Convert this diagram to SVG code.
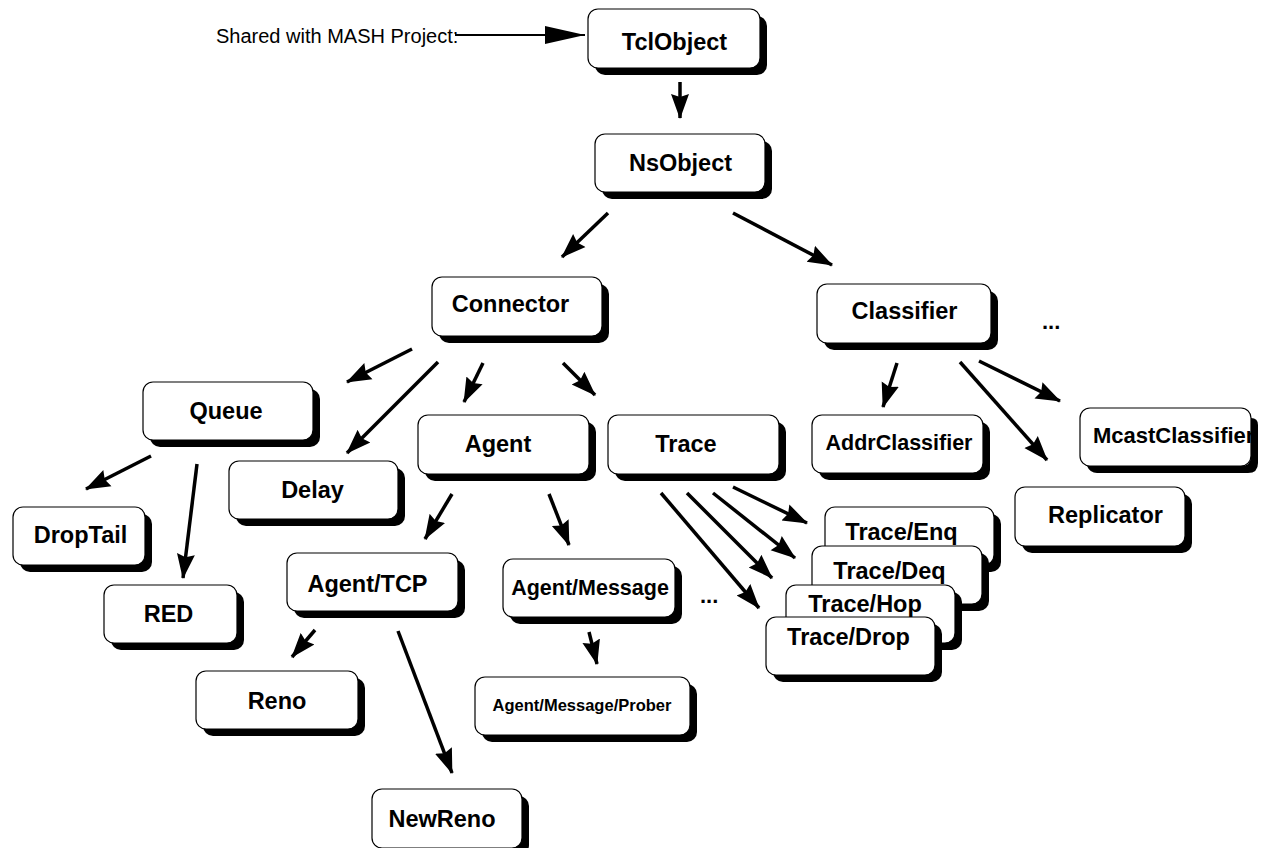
<svg xmlns="http://www.w3.org/2000/svg" width="1270" height="848" viewBox="0 0 1270 848">
<style>
.sh{fill:#000}
.bx{fill:#fff;stroke:#000;stroke-width:1.2}
.t{font-family:"Liberation Sans",Arial,sans-serif;font-weight:bold;font-size:23.5px;fill:#000;text-anchor:middle}
.c line{stroke:#000;stroke-width:3.5;marker-end:url(#ah)}
.lbl{font-family:"Liberation Sans",Arial,sans-serif;font-size:20px;fill:#000}
.dots{font-family:"Liberation Sans",Arial,sans-serif;font-weight:bold;font-size:22px;fill:#000}
</style>
<defs>
<marker id="ah" markerWidth="26" markerHeight="20" refX="24" refY="10" orient="auto" markerUnits="userSpaceOnUse" viewBox="0 0 26 20"><path d="M0,1 L25,10 L0,19 L3,10 Z" fill="#000"/></marker>
<marker id="ahb" markerWidth="42" markerHeight="20" refX="40" refY="10" orient="auto" markerUnits="userSpaceOnUse" viewBox="0 0 42 20"><path d="M0,1 L40,10 L0,19 Z" fill="#000"/></marker>
</defs>
<rect width="1270" height="848" fill="#fff"/>

<text class="lbl" x="216" y="43">Shared with MASH Project:</text>

<g id="TclObject"><rect class="sh" x="595" y="16" width="172" height="59" rx="10"/><rect class="bx" x="588" y="9" width="172" height="59" rx="10"/><text class="t" x="674.5" y="50">TclObject</text></g>
<g id="NsObject"><rect class="sh" x="602" y="141" width="170" height="58" rx="10"/><rect class="bx" x="595" y="134" width="170" height="58" rx="10"/><text class="t" x="680.5" y="171">NsObject</text></g>
<g id="Connector"><rect class="sh" x="439" y="284" width="170" height="59" rx="10"/><rect class="bx" x="432" y="277" width="170" height="59" rx="10"/><text class="t" x="510.5" y="312">Connector</text></g>
<g id="Classifier"><rect class="sh" x="824" y="291" width="174" height="59" rx="10"/><rect class="bx" x="817" y="284" width="174" height="59" rx="10"/><text class="t" x="904.5" y="319">Classifier</text></g>
<g id="Queue"><rect class="sh" x="150" y="389" width="170" height="58" rx="10"/><rect class="bx" x="143" y="382" width="170" height="58" rx="10"/><text class="t" x="226" y="419">Queue</text></g>
<g id="Delay"><rect class="sh" x="236" y="468" width="169" height="58" rx="10"/><rect class="bx" x="229" y="461" width="169" height="58" rx="10"/><text class="t" x="312.5" y="498">Delay</text></g>
<g id="Agent"><rect class="sh" x="425" y="422" width="171" height="59" rx="10"/><rect class="bx" x="418" y="415" width="171" height="59" rx="10"/><text class="t" x="498" y="452">Agent</text></g>
<g id="Trace"><rect class="sh" x="615" y="422" width="171" height="59" rx="10"/><rect class="bx" x="608" y="415" width="171" height="59" rx="10"/><text class="t" x="686" y="452">Trace</text></g>
<g id="AddrClassifier"><rect class="sh" x="819" y="422" width="171" height="58" rx="10"/><rect class="bx" x="812" y="415" width="171" height="58" rx="10"/><text class="t" x="899" y="450" style="font-size:21.5px">AddrClassifier</text></g>
<g id="McastClassifier"><rect class="bx" x="1080" y="408" width="171" height="58" rx="10"/><text class="t" x="1093" y="443" style="font-size:22px;text-anchor:start">McastClassifier</text><path class="sh" d="M1251,418 Q1258,418 1258,425 L1258,463 Q1258,473 1248,473 L1097,473 Q1090,473 1087,466 L1241,466 Q1251,466 1251,456 Z"/></g>
<g id="Replicator"><rect class="sh" x="1022" y="494" width="170" height="59" rx="10"/><rect class="bx" x="1015" y="487" width="170" height="59" rx="10"/><text class="t" x="1105.5" y="523">Replicator</text></g>
<g id="DropTail"><rect class="sh" x="20" y="514" width="132" height="58" rx="10"/><rect class="bx" x="13" y="507" width="132" height="58" rx="10"/><text class="t" x="80.5" y="543">DropTail</text></g>
<g id="RED"><rect class="sh" x="111" y="592" width="133" height="58" rx="10"/><rect class="bx" x="104" y="585" width="133" height="58" rx="10"/><text class="t" x="168.5" y="622">RED</text></g>
<g id="AgentTCP"><rect class="sh" x="294" y="560" width="171" height="58" rx="10"/><rect class="bx" x="287" y="553" width="171" height="58" rx="10"/><text class="t" x="367.5" y="592">Agent/TCP</text></g>
<g id="AgentMessage"><rect class="sh" x="510" y="566" width="172" height="58" rx="10"/><rect class="bx" x="503" y="559" width="172" height="58" rx="10"/><text class="t" x="590" y="595" style="font-size:21.5px">Agent/Message</text></g>
<g id="TraceEnq"><rect class="sh" x="832" y="514" width="169" height="58" rx="10"/><rect class="bx" x="825" y="507" width="169" height="58" rx="10"/><text class="t" x="901.5" y="540">Trace/Enq</text></g>
<g id="TraceDeq"><rect class="sh" x="819" y="553" width="170" height="58" rx="10"/><rect class="bx" x="812" y="546" width="170" height="58" rx="10"/><text class="t" x="889.5" y="579">Trace/Deq</text></g>
<g id="TraceHop"><rect class="sh" x="793" y="592" width="169" height="58" rx="10"/><rect class="bx" x="786" y="585" width="169" height="58" rx="10"/><text class="t" x="865" y="612">Trace/Hop</text></g>
<g id="TraceDrop"><rect class="sh" x="773" y="624" width="169" height="58" rx="10"/><rect class="bx" x="766" y="617" width="169" height="58" rx="10"/><text class="t" x="848.5" y="645">Trace/Drop</text></g>
<g id="Reno"><rect class="sh" x="203" y="678" width="162" height="58" rx="10"/><rect class="bx" x="196" y="671" width="162" height="58" rx="10"/><text class="t" x="277" y="709">Reno</text></g>
<g id="NewReno"><rect class="sh" x="379" y="796" width="150" height="59" rx="10"/><rect class="bx" x="372" y="789" width="150" height="59" rx="10"/><text class="t" x="442" y="827">NewReno</text></g>
<g id="Prober"><rect class="sh" x="482" y="684" width="215" height="58" rx="10"/><rect class="bx" x="475" y="677" width="215" height="58" rx="10"/><text class="t" x="582" y="711" style="font-size:16.5px">Agent/Message/Prober</text></g>

<text class="dots" x="1042" y="329">...</text>
<text class="dots" x="700" y="603">...</text>

<g id="connectors" class="c">
<line x1="455" y1="35" x2="585" y2="35" style="stroke-width:2;marker-end:url(#ahb)"/>
<line x1="680" y1="82" x2="680" y2="118"/>
<line x1="608" y1="213" x2="562" y2="257"/>
<line x1="733" y1="213" x2="832" y2="265"/>
<line x1="412" y1="349" x2="347" y2="382"/>
<line x1="438" y1="362" x2="347" y2="453"/>
<line x1="483" y1="363" x2="464" y2="402"/>
<line x1="563" y1="363" x2="595" y2="395"/>
<line x1="897" y1="363" x2="883" y2="407"/>
<line x1="960" y1="362" x2="1047" y2="460"/>
<line x1="979" y1="361" x2="1060" y2="401"/>
<line x1="151" y1="456" x2="86" y2="489"/>
<line x1="197" y1="464" x2="183" y2="578"/>
<line x1="452" y1="494" x2="425" y2="539"/>
<line x1="549" y1="494" x2="569" y2="545"/>
<line x1="315" y1="630" x2="292" y2="657"/>
<line x1="398" y1="631" x2="452" y2="773"/>
<line x1="589" y1="632" x2="597" y2="664"/>
<line x1="733" y1="487" x2="807" y2="523"/>
<line x1="713" y1="493" x2="795" y2="558"/>
<line x1="687" y1="493" x2="772" y2="578"/>
<line x1="661" y1="493" x2="759" y2="608"/>
</g>
</svg>
